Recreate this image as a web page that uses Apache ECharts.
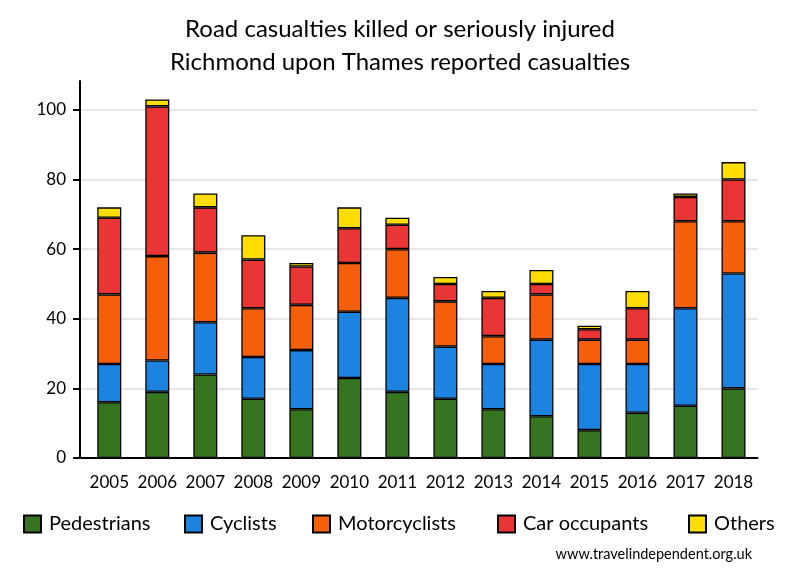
<!DOCTYPE html>
<html>
<head>
<meta charset="utf-8">
<script src="https://cdn.jsdelivr.net/npm/echarts@6/dist/echarts.min.js"></script>
<style>html,body{margin:0;padding:0;background:#fff;}#c{width:800px;height:580px;}</style>
</head>
<body>
<div id="c"></div>
<script>
const categories = ['2005','2006','2007','2008','2009','2010','2011','2012','2013','2014','2015','2016','2017','2018'];
const pedestrians   = [16,19,24,17,14,23,19,17,14,12, 8,13,15,20];
const cyclists      = [11, 9,15,12,17,19,27,15,13,22,19,14,28,33];
const motorcyclists = [20,30,20,14,13,14,14,13, 8,13, 7, 7,25,15];
const carOccupants  = [22,43,13,14,11,10, 7, 5,11, 3, 3, 9, 7,12];
const others        = [ 3, 2, 4, 7, 1, 6, 2, 2, 2, 4, 1, 5, 1, 5];
const yTicks = [0,20,40,60,80,100];

const seriesDefs = [
  {name:'Pedestrians', data:pedestrians, color:'#36751F'},
  {name:'Cyclists', data:cyclists, color:'#1C83E0'},
  {name:'Motorcyclists', data:motorcyclists, color:'#F55F0A'},
  {name:'Car occupants', data:carOccupants, color:'#EA3535'},
  {name:'Others', data:others, color:'#FFDD00'}
];
const legendLefts = [23,184,312,497,688];
const FONT = 'Lato';

const chart = echarts.init(document.getElementById('c'), null, {renderer:'canvas'});
chart.setOption({
  animation:false,
  backgroundColor:'#fff',
  textStyle:{fontFamily:FONT},
  title:[
    {text:'Road casualties killed or seriously injured\nRichmond upon Thames reported casualties',
     left:'center', top:8,
     textStyle:{fontFamily:FONT, fontSize:24, fontWeight:'normal', color:'#000', lineHeight:33}},
    {text:'www.travelindependent.org.uk', right:43, top:542,
     textStyle:{fontFamily:FONT, fontSize:14.5, fontWeight:'normal', color:'#000'}}
  ],
  legend: seriesDefs.map((s,i)=>({
    data:[s.name], left:legendLefts[i], top:514, padding:0, itemWidth:17, itemHeight:17, itemGap:8,
    icon:'rect', selectedMode:false,
    textStyle:{fontFamily:FONT, fontSize:20, color:'#000', padding:[0,0,0,3]}
  })),
  grid:{left:80, right:42.5, top:81, bottom:122, containLabel:false},
  xAxis:{
    type:'value', min:-0.61, max:13.5,
    axisLine:{show:true, onZero:false, lineStyle:{color:'#000', width:2}},
    axisTick:{show:false},
    splitLine:{show:false},
    axisLabel:{customValues:categories.map((c,i)=>i), formatter:v=>categories[Math.round(v)], fontSize:17, color:'#000', margin:16, fontFamily:FONT}
  },
  yAxis:{
    type:'value', min:0, max:108.3, interval:20,
    axisLine:{show:true, onZero:false, lineStyle:{color:'#000', width:2}},
    axisTick:{show:true, customValues:yTicks, length:7, lineStyle:{color:'#000', width:2}},
    axisLabel:{customValues:yTicks, fontSize:17, color:'#000', margin:14, fontFamily:FONT},
    splitLine:{show:true, lineStyle:{color:['#e6e6e6','#e6e6e6','#e6e6e6','#e6e6e6','#e6e6e6','#e6e6e6','rgba(0,0,0,0)'], width:2}}
  },
  series: seriesDefs.map(s=>({
    name:s.name, type:'bar', stack:'total', barWidth:24,
    encode:{x:1, y:0},
    data:s.data.map((v,i)=>[v,i]),
    itemStyle:{color:s.color, borderColor:'#000', borderWidth:1.3}
  }))
});
</script>
</body>
</html>
